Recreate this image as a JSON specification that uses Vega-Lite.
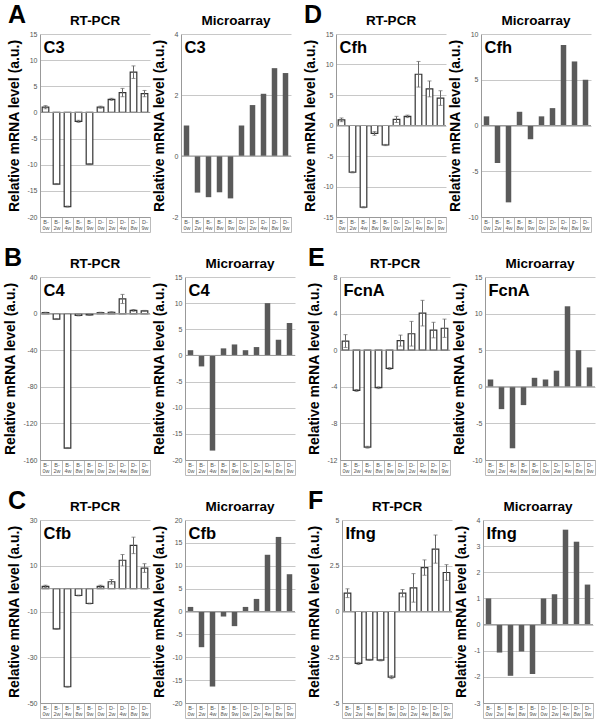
{
"$schema":"https://vega.github.io/schema/vega-lite/v6.json",
"background":"white",
"padding":{"left":3,"top":2,"right":1,"bottom":1},
"config":{
 "font":"Liberation Sans",
 "view":{"stroke":null},
 "title":{"fontSize":13.5,"fontWeight":"bold","color":"#000","offset":3,"frame":"group"},
 "axisY":{"titleFontSize":14,"titleFontWeight":"bold","titleColor":"#000","labelFontSize":7,"labelColor":"#555","ticks":false,"labelPadding":3,"titlePadding":5,"domain":true,"domainColor":"#999","grid":true,"gridColor":"#c8c8c8","labelOverlap":false,"labelExpr":"'' + datum.value"},
 "axisX":{"title":null,"labelAngle":0,"domain":true,"domainColor":"#999","ticks":true,"tickBand":"extent","tickSize":15,"tickColor":"#bbb","labelFontSize":5.5,"labelColor":"#555","labelPadding":-13,"labelLineHeight":6,"labelBaseline":"top","grid":false,"labelExpr":"isString(datum.value) ? [substring(datum.value,0,2), substring(datum.value,2)] : ''"}
},
"data":{"values":[
{"g":"C3","m":"RT","s":"B-0w","v":1.0,"e":0.3},{"g":"C3","m":"RT","s":"B-2w","v":-13.7,"e":0.1},{"g":"C3","m":"RT","s":"B-4w","v":-18.0,"e":0.1},{"g":"C3","m":"RT","s":"B-8w","v":-1.7,"e":0.2},{"g":"C3","m":"RT","s":"B-9w","v":-9.9,"e":0.1},{"g":"C3","m":"RT","s":"D-0w","v":1.0,"e":0.2},{"g":"C3","m":"RT","s":"D-2w","v":2.5,"e":0.2},{"g":"C3","m":"RT","s":"D-4w","v":3.8,"e":0.8},{"g":"C3","m":"RT","s":"D-8w","v":7.7,"e":1.2},{"g":"C3","m":"RT","s":"D-9w","v":3.6,"e":0.6},
{"g":"C3","m":"MA","s":"B-0w","v":1.0},{"g":"C3","m":"MA","s":"B-2w","v":-1.2},{"g":"C3","m":"MA","s":"B-4w","v":-1.35},{"g":"C3","m":"MA","s":"B-8w","v":-1.19},{"g":"C3","m":"MA","s":"B-9w","v":-1.39},{"g":"C3","m":"MA","s":"D-0w","v":1.0},{"g":"C3","m":"MA","s":"D-2w","v":1.67},{"g":"C3","m":"MA","s":"D-4w","v":2.04},{"g":"C3","m":"MA","s":"D-8w","v":2.88},{"g":"C3","m":"MA","s":"D-9w","v":2.72},
{"g":"Cfh","m":"RT","s":"B-0w","v":0.93,"e":0.3},{"g":"Cfh","m":"RT","s":"B-2w","v":-7.66,"e":0.1},{"g":"Cfh","m":"RT","s":"B-4w","v":-13.4,"e":0.1},{"g":"Cfh","m":"RT","s":"B-8w","v":-1.3,"e":0.3},{"g":"Cfh","m":"RT","s":"B-9w","v":-3.2,"e":0.1},{"g":"Cfh","m":"RT","s":"D-0w","v":1.0,"e":0.5},{"g":"Cfh","m":"RT","s":"D-2w","v":1.5,"e":0.2},{"g":"Cfh","m":"RT","s":"D-4w","v":8.4,"e":2.1},{"g":"Cfh","m":"RT","s":"D-8w","v":6.0,"e":1.3},{"g":"Cfh","m":"RT","s":"D-9w","v":4.5,"e":1.2},
{"g":"Cfh","m":"MA","s":"B-0w","v":1.0},{"g":"Cfh","m":"MA","s":"B-2w","v":-4.1},{"g":"Cfh","m":"MA","s":"B-4w","v":-8.4},{"g":"Cfh","m":"MA","s":"B-8w","v":1.5},{"g":"Cfh","m":"MA","s":"B-9w","v":-1.5},{"g":"Cfh","m":"MA","s":"D-0w","v":1.0},{"g":"Cfh","m":"MA","s":"D-2w","v":1.9},{"g":"Cfh","m":"MA","s":"D-4w","v":8.8},{"g":"Cfh","m":"MA","s":"D-8w","v":7.0},{"g":"Cfh","m":"MA","s":"D-9w","v":5.0},
{"g":"C4","m":"RT","s":"B-0w","v":1.0,"e":0.5},{"g":"C4","m":"RT","s":"B-2w","v":-6,"e":0.5},{"g":"C4","m":"RT","s":"B-4w","v":-147,"e":0.5},{"g":"C4","m":"RT","s":"B-8w","v":-2,"e":0.5},{"g":"C4","m":"RT","s":"B-9w","v":-1.5,"e":0.5},{"g":"C4","m":"RT","s":"D-0w","v":1,"e":0.5},{"g":"C4","m":"RT","s":"D-2w","v":1.5,"e":0.5},{"g":"C4","m":"RT","s":"D-4w","v":16,"e":5},{"g":"C4","m":"RT","s":"D-8w","v":3.5,"e":1},{"g":"C4","m":"RT","s":"D-9w","v":3,"e":0.5},
{"g":"C4","m":"MA","s":"B-0w","v":1.0},{"g":"C4","m":"MA","s":"B-2w","v":-2.1},{"g":"C4","m":"MA","s":"B-4w","v":-18.2},{"g":"C4","m":"MA","s":"B-8w","v":1.35},{"g":"C4","m":"MA","s":"B-9w","v":2.1},{"g":"C4","m":"MA","s":"D-0w","v":1.0},{"g":"C4","m":"MA","s":"D-2w","v":1.6},{"g":"C4","m":"MA","s":"D-4w","v":10.0},{"g":"C4","m":"MA","s":"D-8w","v":3.0},{"g":"C4","m":"MA","s":"D-9w","v":6.2},
{"g":"FcnA","m":"RT","s":"B-0w","v":1.0,"e":0.7},{"g":"FcnA","m":"RT","s":"B-2w","v":-4.4,"e":0.1},{"g":"FcnA","m":"RT","s":"B-4w","v":-10.6,"e":0.1},{"g":"FcnA","m":"RT","s":"B-8w","v":-4.1,"e":0.1},{"g":"FcnA","m":"RT","s":"B-9w","v":-2.0,"e":0.1},{"g":"FcnA","m":"RT","s":"D-0w","v":1.05,"e":0.6},{"g":"FcnA","m":"RT","s":"D-2w","v":1.8,"e":1.35},{"g":"FcnA","m":"RT","s":"D-4w","v":4.05,"e":1.4},{"g":"FcnA","m":"RT","s":"D-8w","v":2.2,"e":0.85},{"g":"FcnA","m":"RT","s":"D-9w","v":2.4,"e":1.0},
{"g":"FcnA","m":"MA","s":"B-0w","v":1.0},{"g":"FcnA","m":"MA","s":"B-2w","v":-3.05},{"g":"FcnA","m":"MA","s":"B-4w","v":-8.4},{"g":"FcnA","m":"MA","s":"B-8w","v":-2.5},{"g":"FcnA","m":"MA","s":"B-9w","v":1.23},{"g":"FcnA","m":"MA","s":"D-0w","v":1.0},{"g":"FcnA","m":"MA","s":"D-2w","v":2.2},{"g":"FcnA","m":"MA","s":"D-4w","v":11.0},{"g":"FcnA","m":"MA","s":"D-8w","v":5.0},{"g":"FcnA","m":"MA","s":"D-9w","v":2.65},
{"g":"Cfb","m":"RT","s":"B-0w","v":1.0,"e":0.5},{"g":"Cfb","m":"RT","s":"B-2w","v":-17.6,"e":0.2},{"g":"Cfb","m":"RT","s":"B-4w","v":-42.9,"e":0.2},{"g":"Cfb","m":"RT","s":"B-8w","v":-3.0,"e":0.2},{"g":"Cfb","m":"RT","s":"B-9w","v":-6.5,"e":0.2},{"g":"Cfb","m":"RT","s":"D-0w","v":1.0,"e":0.5},{"g":"Cfb","m":"RT","s":"D-2w","v":3.0,"e":1.0},{"g":"Cfb","m":"RT","s":"D-4w","v":12.4,"e":2.5},{"g":"Cfb","m":"RT","s":"D-8w","v":18.9,"e":3.6},{"g":"Cfb","m":"RT","s":"D-9w","v":9.0,"e":1.9},
{"g":"Cfb","m":"MA","s":"B-0w","v":1.0},{"g":"Cfb","m":"MA","s":"B-2w","v":-7.8},{"g":"Cfb","m":"MA","s":"B-4w","v":-16.4},{"g":"Cfb","m":"MA","s":"B-8w","v":-1.1},{"g":"Cfb","m":"MA","s":"B-9w","v":-3.2},{"g":"Cfb","m":"MA","s":"D-0w","v":1.0},{"g":"Cfb","m":"MA","s":"D-2w","v":2.75},{"g":"Cfb","m":"MA","s":"D-4w","v":12.4},{"g":"Cfb","m":"MA","s":"D-8w","v":16.3},{"g":"Cfb","m":"MA","s":"D-9w","v":8.15},
{"g":"Ifng","m":"RT","s":"B-0w","v":1.0,"e":0.24},{"g":"Ifng","m":"RT","s":"B-2w","v":-2.84,"e":0.06},{"g":"Ifng","m":"RT","s":"B-4w","v":-2.64,"e":0.03},{"g":"Ifng","m":"RT","s":"B-8w","v":-2.66,"e":0.04},{"g":"Ifng","m":"RT","s":"B-9w","v":-3.59,"e":0.08},{"g":"Ifng","m":"RT","s":"D-0w","v":1.0,"e":0.2},{"g":"Ifng","m":"RT","s":"D-2w","v":1.29,"e":0.78},{"g":"Ifng","m":"RT","s":"D-4w","v":2.4,"e":0.42},{"g":"Ifng","m":"RT","s":"D-8w","v":3.41,"e":0.77},{"g":"Ifng","m":"RT","s":"D-9w","v":2.13,"e":0.43},
{"g":"Ifng","m":"MA","s":"B-0w","v":1.0},{"g":"Ifng","m":"MA","s":"B-2w","v":-1.07},{"g":"Ifng","m":"MA","s":"B-4w","v":-1.96},{"g":"Ifng","m":"MA","s":"B-8w","v":-1.03},{"g":"Ifng","m":"MA","s":"B-9w","v":-1.89},{"g":"Ifng","m":"MA","s":"D-0w","v":1.0},{"g":"Ifng","m":"MA","s":"D-2w","v":1.16},{"g":"Ifng","m":"MA","s":"D-4w","v":3.63},{"g":"Ifng","m":"MA","s":"D-8w","v":3.17},{"g":"Ifng","m":"MA","s":"D-9w","v":1.53}
]},
"spacing":12,
"vconcat":[
{"spacing":11,"hconcat":[
 {"title":{"text":"A","anchor":"start","fontSize":25,"fontWeight":"bold","offset":-14,"frame":"bounds"},"spacing":1,"hconcat":[
  {"title":"RT-PCR","width":110,"height":183,"transform":[{"filter":"datum.g==='C3' && datum.m==='RT'"}],"resolve":{"axis":{"x":"independent"}},"layer":[
   {"mark":{"type":"bar","fill":"white","stroke":"#333","strokeWidth":1.2,"width":{"band":0.6}},"encoding":{"x":{"field":"s","type":"nominal","sort":null,"scale":{"paddingInner":0,"paddingOuter":0}},"y":{"field":"v","type":"quantitative","scale":{"domain":[-20,15],"nice":false},"axis":{"values":[-20,-15,-10,-5,0,5,10,15],"title":"Relative mRNA level (a.u.)"}}}},
   {"mark":{"type":"errorbar","color":"#666","ticks":{"size":4}},"encoding":{"x":{"field":"s","type":"nominal","sort":null,"axis":null},"y":{"field":"v","type":"quantitative","axis":{"values":[-20,-15,-10,-5,0,5,10,15],"title":"Relative mRNA level (a.u.)"}},"yError":{"field":"e"}}},
   {"transform":[{"filter":"datum.s==='B-0w'"}],"mark":{"type":"rule","color":"#999"},"encoding":{"y":{"datum":0,"axis":{"values":[-20,-15,-10,-5,0,5,10,15],"title":"Relative mRNA level (a.u.)"}}}},
   {"transform":[{"filter":"datum.s==='B-0w'"}],"mark":{"type":"text","align":"left","baseline":"top","fontSize":16.5,"fontWeight":"bold","dx":-2,"dy":6},"encoding":{"x":{"field":"s","type":"nominal","sort":null,"axis":{"orient":"bottom","offset":15,"labels":false,"ticks":false,"domainColor":"#bbb"}},"y":{"datum":15,"axis":{"values":[-20,-15,-10,-5,0,5,10,15],"title":"Relative mRNA level (a.u.)"}},"text":{"field":"g"}}}
  ]},
  {"title":"Microarray","width":110,"height":183,"transform":[{"filter":"datum.g==='C3' && datum.m==='MA'"}],"resolve":{"axis":{"x":"independent"}},"layer":[
   {"mark":{"type":"bar","fill":"#5a5a5a","width":{"band":0.5}},"encoding":{"x":{"field":"s","type":"nominal","sort":null,"scale":{"paddingInner":0,"paddingOuter":0}},"y":{"field":"v","type":"quantitative","scale":{"domain":[-2,4],"nice":false},"axis":{"values":[-2,0,2,4],"title":"Relative mRNA level (a.u.)"}}}},
   {"transform":[{"filter":"datum.s==='B-0w'"}],"mark":{"type":"rule","color":"#999"},"encoding":{"y":{"datum":0,"axis":{"values":[-2,0,2,4],"title":"Relative mRNA level (a.u.)"}}}},
   {"transform":[{"filter":"datum.s==='B-0w'"}],"mark":{"type":"text","align":"left","baseline":"top","fontSize":16.5,"fontWeight":"bold","dx":-2,"dy":6},"encoding":{"x":{"field":"s","type":"nominal","sort":null,"axis":{"orient":"bottom","offset":15,"labels":false,"ticks":false,"domainColor":"#bbb"}},"y":{"datum":4,"axis":{"values":[-2,0,2,4],"title":"Relative mRNA level (a.u.)"}},"text":{"field":"g"}}}
  ]}
 ]},
 {"title":{"text":"D","anchor":"start","fontSize":25,"fontWeight":"bold","offset":-14,"frame":"bounds"},"spacing":1,"hconcat":[
  {"title":"RT-PCR","width":110,"height":183,"transform":[{"filter":"datum.g==='Cfh' && datum.m==='RT'"}],"resolve":{"axis":{"x":"independent"}},"layer":[
   {"mark":{"type":"bar","fill":"white","stroke":"#333","strokeWidth":1.2,"width":{"band":0.6}},"encoding":{"x":{"field":"s","type":"nominal","sort":null,"scale":{"paddingInner":0,"paddingOuter":0}},"y":{"field":"v","type":"quantitative","scale":{"domain":[-15,15],"nice":false},"axis":{"values":[-15,-10,-5,0,5,10,15],"title":"Relative mRNA level (a.u.)"}}}},
   {"mark":{"type":"errorbar","color":"#666","ticks":{"size":4}},"encoding":{"x":{"field":"s","type":"nominal","sort":null,"axis":null},"y":{"field":"v","type":"quantitative","axis":{"values":[-15,-10,-5,0,5,10,15],"title":"Relative mRNA level (a.u.)"}},"yError":{"field":"e"}}},
   {"transform":[{"filter":"datum.s==='B-0w'"}],"mark":{"type":"rule","color":"#999"},"encoding":{"y":{"datum":0,"axis":{"values":[-15,-10,-5,0,5,10,15],"title":"Relative mRNA level (a.u.)"}}}},
   {"transform":[{"filter":"datum.s==='B-0w'"}],"mark":{"type":"text","align":"left","baseline":"top","fontSize":16.5,"fontWeight":"bold","dx":-2,"dy":6},"encoding":{"x":{"field":"s","type":"nominal","sort":null,"axis":{"orient":"bottom","offset":15,"labels":false,"ticks":false,"domainColor":"#bbb"}},"y":{"datum":15,"axis":{"values":[-15,-10,-5,0,5,10,15],"title":"Relative mRNA level (a.u.)"}},"text":{"field":"g"}}}
  ]},
  {"title":"Microarray","width":110,"height":183,"transform":[{"filter":"datum.g==='Cfh' && datum.m==='MA'"}],"resolve":{"axis":{"x":"independent"}},"layer":[
   {"mark":{"type":"bar","fill":"#5a5a5a","width":{"band":0.5}},"encoding":{"x":{"field":"s","type":"nominal","sort":null,"scale":{"paddingInner":0,"paddingOuter":0}},"y":{"field":"v","type":"quantitative","scale":{"domain":[-10,10],"nice":false},"axis":{"values":[-10,-5,0,5,10],"title":"Relative mRNA level (a.u.)"}}}},
   {"transform":[{"filter":"datum.s==='B-0w'"}],"mark":{"type":"rule","color":"#999"},"encoding":{"y":{"datum":0,"axis":{"values":[-10,-5,0,5,10],"title":"Relative mRNA level (a.u.)"}}}},
   {"transform":[{"filter":"datum.s==='B-0w'"}],"mark":{"type":"text","align":"left","baseline":"top","fontSize":16.5,"fontWeight":"bold","dx":-2,"dy":6},"encoding":{"x":{"field":"s","type":"nominal","sort":null,"axis":{"orient":"bottom","offset":15,"labels":false,"ticks":false,"domainColor":"#bbb"}},"y":{"datum":10,"axis":{"values":[-10,-5,0,5,10],"title":"Relative mRNA level (a.u.)"}},"text":{"field":"g"}}}
  ]}
 ]}
]},
{"spacing":11,"hconcat":[
 {"title":{"text":"B","anchor":"start","fontSize":25,"fontWeight":"bold","offset":-14,"frame":"bounds"},"spacing":1,"hconcat":[
  {"title":"RT-PCR","width":110,"height":183,"transform":[{"filter":"datum.g==='C4' && datum.m==='RT'"}],"resolve":{"axis":{"x":"independent"}},"layer":[
   {"mark":{"type":"bar","fill":"white","stroke":"#333","strokeWidth":1.2,"width":{"band":0.6}},"encoding":{"x":{"field":"s","type":"nominal","sort":null,"scale":{"paddingInner":0,"paddingOuter":0}},"y":{"field":"v","type":"quantitative","scale":{"domain":[-160,40],"nice":false},"axis":{"values":[-160,-120,-80,-40,0,40],"title":"Relative mRNA level (a.u.)"}}}},
   {"mark":{"type":"errorbar","color":"#666","ticks":{"size":4}},"encoding":{"x":{"field":"s","type":"nominal","sort":null,"axis":null},"y":{"field":"v","type":"quantitative","axis":{"values":[-160,-120,-80,-40,0,40],"title":"Relative mRNA level (a.u.)"}},"yError":{"field":"e"}}},
   {"transform":[{"filter":"datum.s==='B-0w'"}],"mark":{"type":"rule","color":"#999"},"encoding":{"y":{"datum":0,"axis":{"values":[-160,-120,-80,-40,0,40],"title":"Relative mRNA level (a.u.)"}}}},
   {"transform":[{"filter":"datum.s==='B-0w'"}],"mark":{"type":"text","align":"left","baseline":"top","fontSize":16.5,"fontWeight":"bold","dx":-2,"dy":6},"encoding":{"x":{"field":"s","type":"nominal","sort":null,"axis":{"orient":"bottom","offset":15,"labels":false,"ticks":false,"domainColor":"#bbb"}},"y":{"datum":40,"axis":{"values":[-160,-120,-80,-40,0,40],"title":"Relative mRNA level (a.u.)"}},"text":{"field":"g"}}}
  ]},
  {"title":"Microarray","width":110,"height":183,"transform":[{"filter":"datum.g==='C4' && datum.m==='MA'"}],"resolve":{"axis":{"x":"independent"}},"layer":[
   {"mark":{"type":"bar","fill":"#5a5a5a","width":{"band":0.5}},"encoding":{"x":{"field":"s","type":"nominal","sort":null,"scale":{"paddingInner":0,"paddingOuter":0}},"y":{"field":"v","type":"quantitative","scale":{"domain":[-20,15],"nice":false},"axis":{"values":[-20,-15,-10,-5,0,5,10,15],"title":"Relative mRNA level (a.u.)"}}}},
   {"transform":[{"filter":"datum.s==='B-0w'"}],"mark":{"type":"rule","color":"#999"},"encoding":{"y":{"datum":0,"axis":{"values":[-20,-15,-10,-5,0,5,10,15],"title":"Relative mRNA level (a.u.)"}}}},
   {"transform":[{"filter":"datum.s==='B-0w'"}],"mark":{"type":"text","align":"left","baseline":"top","fontSize":16.5,"fontWeight":"bold","dx":-2,"dy":6},"encoding":{"x":{"field":"s","type":"nominal","sort":null,"axis":{"orient":"bottom","offset":15,"labels":false,"ticks":false,"domainColor":"#bbb"}},"y":{"datum":15,"axis":{"values":[-20,-15,-10,-5,0,5,10,15],"title":"Relative mRNA level (a.u.)"}},"text":{"field":"g"}}}
  ]}
 ]},
 {"title":{"text":"E","anchor":"start","fontSize":25,"fontWeight":"bold","offset":-14,"frame":"bounds"},"spacing":1,"hconcat":[
  {"title":"RT-PCR","width":110,"height":183,"transform":[{"filter":"datum.g==='FcnA' && datum.m==='RT'"}],"resolve":{"axis":{"x":"independent"}},"layer":[
   {"mark":{"type":"bar","fill":"white","stroke":"#333","strokeWidth":1.2,"width":{"band":0.6}},"encoding":{"x":{"field":"s","type":"nominal","sort":null,"scale":{"paddingInner":0,"paddingOuter":0}},"y":{"field":"v","type":"quantitative","scale":{"domain":[-12,8],"nice":false},"axis":{"values":[-12,-8,-4,0,4,8],"title":"Relative mRNA level (a.u.)"}}}},
   {"mark":{"type":"errorbar","color":"#666","ticks":{"size":4}},"encoding":{"x":{"field":"s","type":"nominal","sort":null,"axis":null},"y":{"field":"v","type":"quantitative","axis":{"values":[-12,-8,-4,0,4,8],"title":"Relative mRNA level (a.u.)"}},"yError":{"field":"e"}}},
   {"transform":[{"filter":"datum.s==='B-0w'"}],"mark":{"type":"rule","color":"#999"},"encoding":{"y":{"datum":0,"axis":{"values":[-12,-8,-4,0,4,8],"title":"Relative mRNA level (a.u.)"}}}},
   {"transform":[{"filter":"datum.s==='B-0w'"}],"mark":{"type":"text","align":"left","baseline":"top","fontSize":16.5,"fontWeight":"bold","dx":-2,"dy":6},"encoding":{"x":{"field":"s","type":"nominal","sort":null,"axis":{"orient":"bottom","offset":15,"labels":false,"ticks":false,"domainColor":"#bbb"}},"y":{"datum":8,"axis":{"values":[-12,-8,-4,0,4,8],"title":"Relative mRNA level (a.u.)"}},"text":{"field":"g"}}}
  ]},
  {"title":"Microarray","width":110,"height":183,"transform":[{"filter":"datum.g==='FcnA' && datum.m==='MA'"}],"resolve":{"axis":{"x":"independent"}},"layer":[
   {"mark":{"type":"bar","fill":"#5a5a5a","width":{"band":0.5}},"encoding":{"x":{"field":"s","type":"nominal","sort":null,"scale":{"paddingInner":0,"paddingOuter":0}},"y":{"field":"v","type":"quantitative","scale":{"domain":[-10,15],"nice":false},"axis":{"values":[-10,-5,0,5,10,15],"title":"Relative mRNA level (a.u.)"}}}},
   {"transform":[{"filter":"datum.s==='B-0w'"}],"mark":{"type":"rule","color":"#999"},"encoding":{"y":{"datum":0,"axis":{"values":[-10,-5,0,5,10,15],"title":"Relative mRNA level (a.u.)"}}}},
   {"transform":[{"filter":"datum.s==='B-0w'"}],"mark":{"type":"text","align":"left","baseline":"top","fontSize":16.5,"fontWeight":"bold","dx":-2,"dy":6},"encoding":{"x":{"field":"s","type":"nominal","sort":null,"axis":{"orient":"bottom","offset":15,"labels":false,"ticks":false,"domainColor":"#bbb"}},"y":{"datum":15,"axis":{"values":[-10,-5,0,5,10,15],"title":"Relative mRNA level (a.u.)"}},"text":{"field":"g"}}}
  ]}
 ]}
]},
{"spacing":11,"hconcat":[
 {"title":{"text":"C","anchor":"start","fontSize":25,"fontWeight":"bold","offset":-14,"frame":"bounds"},"spacing":1,"hconcat":[
  {"title":"RT-PCR","width":110,"height":183,"transform":[{"filter":"datum.g==='Cfb' && datum.m==='RT'"}],"resolve":{"axis":{"x":"independent"}},"layer":[
   {"mark":{"type":"bar","fill":"white","stroke":"#333","strokeWidth":1.2,"width":{"band":0.6}},"encoding":{"x":{"field":"s","type":"nominal","sort":null,"scale":{"paddingInner":0,"paddingOuter":0}},"y":{"field":"v","type":"quantitative","scale":{"domain":[-50,30],"nice":false},"axis":{"values":[-50,-30,-10,10,30],"title":"Relative mRNA level (a.u.)"}}}},
   {"mark":{"type":"errorbar","color":"#666","ticks":{"size":4}},"encoding":{"x":{"field":"s","type":"nominal","sort":null,"axis":null},"y":{"field":"v","type":"quantitative","axis":{"values":[-50,-30,-10,10,30],"title":"Relative mRNA level (a.u.)"}},"yError":{"field":"e"}}},
   {"transform":[{"filter":"datum.s==='B-0w'"}],"mark":{"type":"rule","color":"#999"},"encoding":{"y":{"datum":0,"axis":{"values":[-50,-30,-10,10,30],"title":"Relative mRNA level (a.u.)"}}}},
   {"transform":[{"filter":"datum.s==='B-0w'"}],"mark":{"type":"text","align":"left","baseline":"top","fontSize":16.5,"fontWeight":"bold","dx":-2,"dy":6},"encoding":{"x":{"field":"s","type":"nominal","sort":null,"axis":{"orient":"bottom","offset":15,"labels":false,"ticks":false,"domainColor":"#bbb"}},"y":{"datum":30,"axis":{"values":[-50,-30,-10,10,30],"title":"Relative mRNA level (a.u.)"}},"text":{"field":"g"}}}
  ]},
  {"title":"Microarray","width":110,"height":183,"transform":[{"filter":"datum.g==='Cfb' && datum.m==='MA'"}],"resolve":{"axis":{"x":"independent"}},"layer":[
   {"mark":{"type":"bar","fill":"#5a5a5a","width":{"band":0.5}},"encoding":{"x":{"field":"s","type":"nominal","sort":null,"scale":{"paddingInner":0,"paddingOuter":0}},"y":{"field":"v","type":"quantitative","scale":{"domain":[-20,20],"nice":false},"axis":{"values":[-20,-15,-10,-5,0,5,10,15,20],"title":"Relative mRNA level (a.u.)"}}}},
   {"transform":[{"filter":"datum.s==='B-0w'"}],"mark":{"type":"rule","color":"#999"},"encoding":{"y":{"datum":0,"axis":{"values":[-20,-15,-10,-5,0,5,10,15,20],"title":"Relative mRNA level (a.u.)"}}}},
   {"transform":[{"filter":"datum.s==='B-0w'"}],"mark":{"type":"text","align":"left","baseline":"top","fontSize":16.5,"fontWeight":"bold","dx":-2,"dy":6},"encoding":{"x":{"field":"s","type":"nominal","sort":null,"axis":{"orient":"bottom","offset":15,"labels":false,"ticks":false,"domainColor":"#bbb"}},"y":{"datum":20,"axis":{"values":[-20,-15,-10,-5,0,5,10,15,20],"title":"Relative mRNA level (a.u.)"}},"text":{"field":"g"}}}
  ]}
 ]},
 {"title":{"text":"F","anchor":"start","fontSize":25,"fontWeight":"bold","offset":-14,"frame":"bounds"},"spacing":1,"hconcat":[
  {"title":"RT-PCR","width":110,"height":183,"transform":[{"filter":"datum.g==='Ifng' && datum.m==='RT'"}],"resolve":{"axis":{"x":"independent"}},"layer":[
   {"mark":{"type":"bar","fill":"white","stroke":"#333","strokeWidth":1.2,"width":{"band":0.6}},"encoding":{"x":{"field":"s","type":"nominal","sort":null,"scale":{"paddingInner":0,"paddingOuter":0}},"y":{"field":"v","type":"quantitative","scale":{"domain":[-5,5],"nice":false},"axis":{"values":[-5,-2.5,0,2.5,5],"title":"Relative mRNA level (a.u.)"}}}},
   {"mark":{"type":"errorbar","color":"#666","ticks":{"size":4}},"encoding":{"x":{"field":"s","type":"nominal","sort":null,"axis":null},"y":{"field":"v","type":"quantitative","axis":{"values":[-5,-2.5,0,2.5,5],"title":"Relative mRNA level (a.u.)"}},"yError":{"field":"e"}}},
   {"transform":[{"filter":"datum.s==='B-0w'"}],"mark":{"type":"rule","color":"#999"},"encoding":{"y":{"datum":0,"axis":{"values":[-5,-2.5,0,2.5,5],"title":"Relative mRNA level (a.u.)"}}}},
   {"transform":[{"filter":"datum.s==='B-0w'"}],"mark":{"type":"text","align":"left","baseline":"top","fontSize":16.5,"fontWeight":"bold","dx":-2,"dy":6},"encoding":{"x":{"field":"s","type":"nominal","sort":null,"axis":{"orient":"bottom","offset":15,"labels":false,"ticks":false,"domainColor":"#bbb"}},"y":{"datum":5,"axis":{"values":[-5,-2.5,0,2.5,5],"title":"Relative mRNA level (a.u.)"}},"text":{"field":"g"}}}
  ]},
  {"title":"Microarray","width":110,"height":183,"transform":[{"filter":"datum.g==='Ifng' && datum.m==='MA'"}],"resolve":{"axis":{"x":"independent"}},"layer":[
   {"mark":{"type":"bar","fill":"#5a5a5a","width":{"band":0.5}},"encoding":{"x":{"field":"s","type":"nominal","sort":null,"scale":{"paddingInner":0,"paddingOuter":0}},"y":{"field":"v","type":"quantitative","scale":{"domain":[-3,4],"nice":false},"axis":{"values":[-3,-2,-1,0,1,2,3,4],"title":"Relative mRNA level (a.u.)"}}}},
   {"transform":[{"filter":"datum.s==='B-0w'"}],"mark":{"type":"rule","color":"#999"},"encoding":{"y":{"datum":0,"axis":{"values":[-3,-2,-1,0,1,2,3,4],"title":"Relative mRNA level (a.u.)"}}}},
   {"transform":[{"filter":"datum.s==='B-0w'"}],"mark":{"type":"text","align":"left","baseline":"top","fontSize":16.5,"fontWeight":"bold","dx":-2,"dy":6},"encoding":{"x":{"field":"s","type":"nominal","sort":null,"axis":{"orient":"bottom","offset":15,"labels":false,"ticks":false,"domainColor":"#bbb"}},"y":{"datum":4,"axis":{"values":[-3,-2,-1,0,1,2,3,4],"title":"Relative mRNA level (a.u.)"}},"text":{"field":"g"}}}
  ]}
 ]}
]}
]
}
